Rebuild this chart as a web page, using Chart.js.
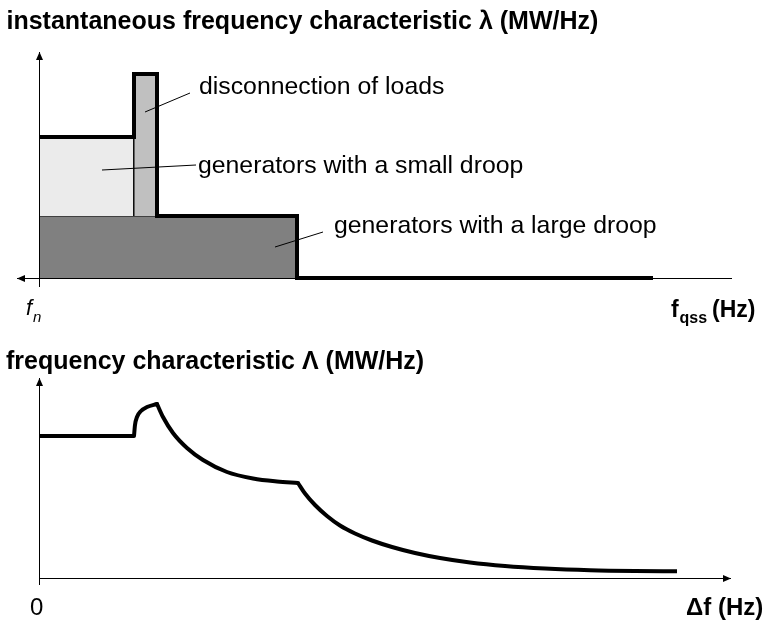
<!DOCTYPE html>
<html>
<head>
<meta charset="utf-8">
<script src="https://cdn.jsdelivr.net/npm/chart.js@4.4.1/dist/chart.umd.min.js"></script>
<style>
  html, body { margin: 0; padding: 0; background: #ffffff; }
  body { width: 767px; height: 621px; position: relative; overflow: hidden;
         font-family: "Liberation Sans", Arial, Helvetica, sans-serif; color: #000; }
  canvas { position: absolute; left: 0; }
  #topChart { top: 0; }
  #bottomChart { top: 310px; }
  .t { position: absolute; line-height: 1; white-space: nowrap; }
  .title { font-size: 25px; font-weight: bold; }
  .lab { font-size: 24.8px; }
</style>
</head>
<body>
<canvas id="topChart" width="767" height="310"></canvas>
<canvas id="bottomChart" width="767" height="311"></canvas>

<div class="t title" style="left:6.5px; top:8px;">instantaneous frequency characteristic λ (MW/Hz)</div>
<div class="t lab" style="left:199px; top:74px;">disconnection of loads</div>
<div class="t lab" style="left:198px; top:153px;">generators with a small droop</div>
<div class="t lab" style="left:334px; top:213px;">generators with a large droop</div>
<div class="t" style="left:26px; top:297.4px; font-size:22px; font-style:italic;">f</div>
<div class="t" style="left:33px; top:309.3px; font-size:15px; font-style:italic;">n</div>
<div class="t" style="left:671px; top:297.5px; font-size:23px; font-weight:bold;">f</div>
<div class="t" style="left:679.5px; top:309.5px; font-size:16px; font-weight:bold;">qss</div>
<div class="t" style="left:712px; top:297.5px; font-size:23px; font-weight:bold;">(Hz)</div>

<div class="t title" style="left:6px; top:348px;">frequency characteristic Λ (MW/Hz)</div>
<div class="t" style="left:30px; top:594.7px; font-size:24px;">0</div>
<div class="t" style="left:686px; top:594.7px; font-size:24px; font-weight:bold;">Δf (Hz)</div>

<script>
// ---------- DATA (arbitrary units) ----------
// Top panel: instantaneous frequency characteristic λ (step outline)
const lambdaX = [0, 0.95, 0.95, 1.18, 1.18, 2.58, 2.58, 6.14];
const lambdaY = [14.1, 14.1, 20.4, 20.4, 6.2, 6.2, 0, 0];
// Contributions (filled blocks)
const largeDroopX = [0, 2.58];
const largeDroopY = [6.2, 6.2];
const smallDroopX = [0, 0.95, 0.95];
const smallDroopY = [14.1, 14.1, 6.2];
const loadsX = [0.95, 0.95, 1.18, 1.18];
const loadsY = [6.2, 20.4, 20.4, 6.2];

// Bottom panel: frequency characteristic Λ, read in four pieces
const seg1X = [0, 0.95];
const seg1Y = [14.2, 14.2];
const seg2X = [0.95, 0.96, 0.98, 1.02, 1.08, 1.18];
const seg2Y = [14.2, 15.3, 16.1, 16.7, 17.1, 17.4];
const seg3X = [1.18, 1.24, 1.34, 1.48, 1.64, 1.88, 2.14, 2.38, 2.59];
const seg3Y = [17.4, 16.1, 14.5, 13.0, 11.8, 10.6, 9.95, 9.65, 9.5];
const seg4X = [2.59, 2.66, 2.76, 2.88, 3.01, 3.16, 3.33, 3.53, 3.76, 4.01, 4.31, 4.66, 5.06, 5.51, 5.96, 6.38];
const seg4Y = [9.5, 8.45, 7.3, 6.2, 5.25, 4.45, 3.75, 3.1, 2.5, 2.0, 1.55, 1.2, 0.95, 0.78, 0.7, 0.67];

// Leader lines for annotations [x1, y1, x2, y2] in top-panel units
const leaderLoads = [1.06, 16.6, 1.51, 18.5];
const leaderSmall = [0.63, 10.8, 1.57, 11.3];
const leaderLarge = [2.36, 3.1, 2.84, 4.6];

// ---------- helpers ----------
const pts = (xs, ys) => xs.map((x, i) => ({ x: x, y: ys[i] }));

function arrowHead(ctx, x, y, dir) {
  const L = 8, W = 3.5;
  ctx.beginPath();
  if (dir === 'up') { ctx.moveTo(x, y); ctx.lineTo(x - W, y + L); ctx.lineTo(x + W, y + L); }
  else if (dir === 'left') { ctx.moveTo(x, y); ctx.lineTo(x + L, y - W); ctx.lineTo(x + L, y + W); }
  else { ctx.moveTo(x, y); ctx.lineTo(x - L, y - W); ctx.lineTo(x - L, y + W); }
  ctx.closePath();
  ctx.fill();
}

const axesPlugin = {
  id: 'arrowAxes',
  afterDatasetsDraw(chart, args, opts) {
    const ctx = chart.ctx, xs = chart.scales.x, ys = chart.scales.y;
    ctx.save();
    ctx.strokeStyle = '#000'; ctx.fillStyle = '#000'; ctx.lineWidth = 1;
    // x axis
    const y0 = Math.round(ys.getPixelForValue(0)) + 0.5;
    const xa = xs.getPixelForValue(opts.xFrom), xb = xs.getPixelForValue(opts.xTo);
    ctx.beginPath(); ctx.moveTo(xa, y0); ctx.lineTo(xb, y0); ctx.stroke();
    if (opts.xArrow === 'left') arrowHead(ctx, xa, y0, 'left');
    else arrowHead(ctx, xb, y0, 'right');
    // y axis
    const x0 = Math.round(xs.getPixelForValue(0)) + 0.5;
    const ya = ys.getPixelForValue(opts.yFrom), yb = ys.getPixelForValue(opts.yTo);
    ctx.beginPath(); ctx.moveTo(x0, ya); ctx.lineTo(x0, yb); ctx.stroke();
    arrowHead(ctx, x0, yb, 'up');
    // leader lines
    (opts.leaders || []).forEach(l => {
      ctx.beginPath();
      ctx.moveTo(xs.getPixelForValue(l[0]), ys.getPixelForValue(l[1]));
      ctx.lineTo(xs.getPixelForValue(l[2]), ys.getPixelForValue(l[3]));
      ctx.stroke();
    });
    ctx.restore();
  }
};

const baseScales = (ymax) => ({
  x: { type: 'linear', min: 0, max: 7, display: false },
  y: { type: 'linear', min: 0, max: ymax, display: false }
});

// ---------- top chart ----------
new Chart(document.getElementById('topChart'), {
  type: 'scatter',
  data: {
    datasets: [
      { data: pts(lambdaX, lambdaY), showLine: true, borderColor: '#000', borderWidth: 4,
        borderJoinStyle: 'miter', pointRadius: 0, fill: false, clip: false },
      { data: pts(loadsX, loadsY), showLine: true, borderColor: '#000', borderWidth: 1,
        backgroundColor: '#c0c0c0', pointRadius: 0, fill: { value: largeDroopY[0] }, clip: false },
      { data: pts(smallDroopX, smallDroopY), showLine: true, borderColor: '#000', borderWidth: 1,
        backgroundColor: '#ebebeb', pointRadius: 0, fill: { value: largeDroopY[0] }, clip: false },
      { data: pts(largeDroopX, largeDroopY), showLine: true, borderColor: '#000', borderWidth: 1,
        backgroundColor: '#808080', pointRadius: 0, fill: 'origin', clip: false }
    ]
  },
  options: {
    responsive: false, animation: false, devicePixelRatio: 1,
    layout: { padding: { left: 39, right: 28, top: 48, bottom: 32 } },
    scales: baseScales(23),
    elements: { line: { tension: 0 } },
    plugins: {
      legend: { display: false }, tooltip: { enabled: false }, title: { display: false },
      arrowAxes: { xFrom: -0.22, xTo: 6.93, yFrom: -0.9, yTo: 22.6, xArrow: 'left',
                   leaders: [leaderLoads, leaderSmall, leaderLarge] }
    }
  },
  plugins: [axesPlugin]
});

// ---------- bottom chart ----------
const curveStyle = { showLine: true, borderColor: '#000', borderWidth: 4, pointRadius: 0,
  fill: false, clip: false, cubicInterpolationMode: 'monotone', borderCapStyle: 'round' };
new Chart(document.getElementById('bottomChart'), {
  type: 'scatter',
  data: {
    datasets: [
      Object.assign({ data: pts(seg1X, seg1Y) }, curveStyle, { borderCapStyle: 'butt' }),
      Object.assign({ data: pts(seg2X, seg2Y) }, curveStyle),
      Object.assign({ data: pts(seg3X, seg3Y) }, curveStyle),
      Object.assign({ data: pts(seg4X, seg4Y) }, curveStyle, { borderCapStyle: 'butt' })
    ]
  },
  options: {
    responsive: false, animation: false, devicePixelRatio: 1,
    layout: { padding: { left: 39, right: 28, top: 68, bottom: 43 } },
    scales: baseScales(20),
    plugins: {
      legend: { display: false }, tooltip: { enabled: false }, title: { display: false },
      arrowAxes: { xFrom: 0, xTo: 6.92, yFrom: -0.7, yTo: 20, xArrow: 'right', leaders: [] }
    }
  },
  plugins: [axesPlugin]
});
</script>
</body>
</html>
